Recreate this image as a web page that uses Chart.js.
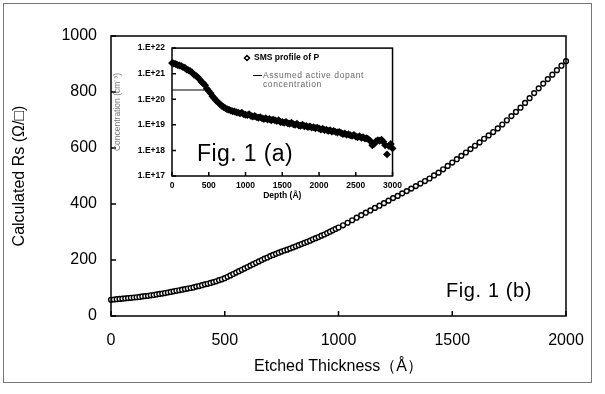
<!DOCTYPE html>
<html>
<head>
<meta charset="utf-8">
<script src="https://cdn.jsdelivr.net/npm/chart.js@4.4.0/dist/chart.umd.min.js"></script>
<style>
  body { margin: 0; background: #fff; }
  #wrap { position: relative; width: 605px; height: 394px; font-family: "Liberation Sans", Arial, sans-serif; }
  #frame { position: absolute; left: 3px; top: 3px; width: 587px; height: 378px; border: 1px solid #777; }
  #main { position: absolute; left: 0; top: 0; }
  #inset { position: absolute; left: 112px; top: 36px; }
  .fig { position: absolute; color: #000; white-space: nowrap; }
</style>
</head>
<body>
<div id="wrap">
  <div id="frame"></div>
  <canvas id="main" width="605" height="394"></canvas>
  <canvas id="inset" width="295" height="168"></canvas>
  <div class="fig" style="left:197px;top:142px;font-size:23px;line-height:23px;letter-spacing:0.4px">Fig. 1 (a)</div>
  <div class="fig" style="left:446px;top:280px;font-size:20px;line-height:20px;letter-spacing:0.6px">Fig. 1 (b)</div>
</div>
<script>
// main plot: calculated sheet resistance vs etched thickness
var thickness = [0,12.5,25,37.5,50,62.5,75,87.5,100,112.5,125,137.5,150,162.5,175,187.5,200,212.5,225,237.5,
  250,262.5,275,287.5,300,312.5,325,337.5,350,362.5,375,387.5,400,412.5,425,437.5,450,462.5,475,487.5,
  500,512.5,525,537.5,550,562.5,575,587.5,600,612.5,625,637.5,650,662.5,675,687.5,700,712.5,725,737.5,
  750,762.5,775,787.5,800,812.5,825,837.5,850,862.5,875,887.5,900,912.5,925,937.5,950,962.5,975,987.5,1000,
  1020,1040,1060,1080,1100,1120,1140,1160,1180,1200,1220,1240,1260,1280,1300,1320,1340,1360,1380,1400,
  1420,1440,1460,1480,1500,1520,1540,1560,1580,1600,1620,1640,1660,1680,1700,1720,1740,1760,1780,1800,
  1820,1840,1860,1880,1900,1920,1940,1960,1980,2000];
var rs = [58,59,60,61,62,63,64,65,66,67,68,70,71,72,74,75,77,79,80,82,
  84,86,88,90,92,94,96,98,100,102,105,107,110,113,115,118,121,124,128,131,
  135,140,145,150,155,160,165,170,175,180,185,190,195,200,205,209,214,218,222,226,
  230,234,237,241,245,249,253,257,261,265,269,274,278,282,287,291,296,301,306,311,316,
  324,333,342,351,360,369,377,386,394,403,412,421,429,438,446,455,464,473,482,491,
  502,512,524,536,548,560,572,584,596,608,620,633,645,657,670,684,699,714,729,744,
  761,778,796,813,830,846,862,878,894,910];

// inset: SIMS profile of P
var depth = [0,25,50,75,100,125,150,175,200,225,250,275,300,325,350,375,400,425,450,475,
  500,525,550,575,600,625,650,675,700,725,750,775,800,825,850,875,900,925,950,975,
  1000,1025,1050,1075,1100,1125,1150,1175,1200,1225,1250,1275,1300,1325,1350,1375,1400,1425,1450,1475,
  1500,1525,1550,1575,1600,1625,1650,1675,1700,1725,1750,1775,1800,1825,1850,1875,1900,1925,1950,1975,
  2000,2025,2050,2075,2100,2125,2150,2175,2200,2225,2250,2275,2300,2325,2350,2375,2400,2425,2450,2475,
  2500,2525,2550,2575,2600,2625,2650,2675,2700,2725,2750,2775,2800,2825,2850,2875,2900,2925,2950,2975,3000];
var simsConc = [2.6e21,2.5e21,2.4e21,2.2e21,2.1e21,2.0e21,1.8e21,1.7e21,1.45e21,1.35e21,
  1.25e21,1.12e21,9.0e20,8.3e20,7.2e20,6.0e20,4.8e20,4.2e20,3.5e20,2.6e20,
  2.1e20,1.7e20,1.3e20,1.1e20,9.0e19,7.6e19,6.6e19,5.6e19,5.0e19,4.5e19,
  4.1e19,3.9e19,3.6e19,3.4e19,3.3e19,3.1e19,3.0e19,2.8e19,3.0e19,2.6e19,
  2.5e19,2.4e19,2.6e19,2.2e19,2.1e19,2.2e19,2.0e19,1.9e19,2.0e19,1.8e19,
  1.7e19,1.8e19,1.6e19,1.7e19,1.5e19,1.6e19,1.5e19,1.4e19,1.5e19,1.3e19,
  1.3e19,1.2e19,1.3e19,1.15e19,1.1e19,1.2e19,1.05e19,1.0e19,1.1e19,9.5e18,
  9.2e18,1.0e19,8.8e18,9.0e18,8.2e18,8.6e18,7.9e18,8.1e18,7.4e18,7.8e18,
  7.2e18,6.6e18,7.0e18,6.2e18,6.4e18,5.8e18,6.1e18,5.5e18,5.8e18,5.3e18,
  5.0e18,5.3e18,4.8e18,4.4e18,4.6e18,4.1e18,4.3e18,3.9e18,3.7e18,4.0e18,
  3.5e18,3.3e18,3.6e18,3.1e18,3.3e18,2.9e18,3.0e18,2.7e18,2.3e18,1.6e18,
  1.8e18,2.3e18,2.5e18,2.4e18,2.6e18,2.2e18,1.6e18,7e17,1.5e18,1.8e18,
  1.2e18];
var activeDepth = [0, 480];
var activeConc = [2.3e20, 2.3e20];
var decades = [17, 18, 19, 20, 21, 22];

var fam = '"Liberation Sans", Arial, sans-serif';
var plain = function(v) { return String(v); };

// box around plot area + tick marks pointing inward
var frameTicks = {
  id: 'frameTicks',
  afterDatasetsDraw: function(chart, args, opts) {
    var ctx = chart.ctx, a = chart.chartArea, sx = chart.scales.x, sy = chart.scales.y;
    ctx.save();
    ctx.strokeStyle = '#000';
    ctx.lineWidth = opts.width;
    ctx.strokeRect(a.left, a.top, a.right - a.left, a.bottom - a.top);
    ctx.beginPath();
    sx.ticks.forEach(function(t) {
      var px = sx.getPixelForValue(t.value);
      ctx.moveTo(px, a.bottom); ctx.lineTo(px, a.bottom - opts.len);
    });
    sy.ticks.forEach(function(t) {
      var py = sy.getPixelForValue(t.value);
      ctx.moveTo(a.left, py); ctx.lineTo(a.left + opts.len, py);
    });
    ctx.stroke();
    ctx.restore();
  }
};

// legend of the inset, drawn by hand so the second label can wrap
var insetLegend = {
  id: 'insetLegend',
  afterDraw: function(chart) {
    var ctx = chart.ctx;
    ctx.save();
    ctx.beginPath();
    ctx.moveTo(135, 19.5); ctx.lineTo(137.5, 22); ctx.lineTo(135, 24.5); ctx.lineTo(132.5, 22); ctx.closePath();
    ctx.fillStyle = '#fff'; ctx.fill();
    ctx.lineWidth = 1.5; ctx.strokeStyle = '#000'; ctx.stroke();
    ctx.fillStyle = '#000';
    ctx.font = 'bold 8.5px ' + fam;
    ctx.textBaseline = 'middle';
    ctx.fillText(chart.data.datasets[0].label, 142, 22);
    ctx.beginPath();
    ctx.moveTo(141, 39.5); ctx.lineTo(150, 39.5);
    ctx.lineWidth = 1; ctx.stroke();
    ctx.fillStyle = '#666';
    ctx.font = '8.5px ' + fam;
    ctx.letterSpacing = '0.6px';
    ctx.fillText('Assumed active dopant', 151, 40);
    ctx.fillText('concentration', 151, 49);
    ctx.restore();
  }
};

new Chart(document.getElementById('main'), {
  type: 'scatter',
  data: {
    datasets: [{
      label: 'Calculated Rs',
      data: thickness.map(function(t, i) { return { x: t, y: rs[i] }; }),
      pointStyle: 'circle',
      pointRadius: 2.4,
      pointBorderWidth: 1.4,
      pointBorderColor: '#000',
      pointBackgroundColor: '#fff',
      showLine: false,
      clip: false
    }]
  },
  options: {
    responsive: false,
    animation: false,
    layout: { padding: { top: 36, right: 39, left: 0, bottom: 0 } },
    plugins: {
      legend: { display: false },
      tooltip: { enabled: false },
      frameTicks: { len: 5, width: 1.5 }
    },
    scales: {
      x: {
        type: 'linear', min: 0, max: 2000,
        ticks: { stepSize: 500, padding: 15, color: '#000', font: { size: 16, family: fam }, callback: plain },
        grid: { display: false, drawTicks: false },
        border: { display: false },
        title: { display: true, text: 'Etched Thickness（Å）', color: '#000', font: { size: 16, family: fam }, padding: { top: 0, bottom: 18 } },
        afterFit: function(s) { s.height = 78; }
      },
      y: {
        type: 'linear', min: 0, max: 1000,
        ticks: { stepSize: 200, padding: 14, color: '#000', font: { size: 16, family: fam }, callback: plain },
        grid: { display: false, drawTicks: false },
        border: { display: false },
        title: { display: true, text: 'Calculated Rs (Ω/□)', color: '#000', font: { size: 16, family: fam }, padding: { top: 10, bottom: 0 } },
        afterFit: function(s) { s.width = 111; }
      }
    }
  },
  plugins: [frameTicks]
});

new Chart(document.getElementById('inset'), {
  type: 'scatter',
  data: {
    datasets: [{
      label: 'SMS profile of P',
      data: depth.map(function(d, i) { return { x: d, y: simsConc[i] }; }),
      pointStyle: 'rectRot',
      pointRadius: 2.7,
      pointBorderWidth: 1.8,
      pointBorderColor: '#000',
      pointBackgroundColor: '#000',
      showLine: false,
      clip: false
    }, {
      label: 'Assumed active dopant concentration',
      data: activeDepth.map(function(d, i) { return { x: d, y: activeConc[i] }; }),
      showLine: true,
      borderColor: '#000',
      borderWidth: 1,
      pointRadius: 0
    }]
  },
  options: {
    responsive: false,
    animation: false,
    layout: { padding: { top: 8, right: 10, left: 0, bottom: 0 } },
    plugins: {
      legend: { display: false },
      tooltip: { enabled: false },
      frameTicks: { len: 4, width: 1.5 }
    },
    scales: {
      x: {
        type: 'linear', min: 0, max: 3000,
        ticks: { stepSize: 500, padding: 5, color: '#000', font: { size: 8.5, weight: 'bold', family: fam }, callback: plain },
        grid: { display: false, drawTicks: false },
        border: { display: false },
        title: { display: true, text: 'Depth (Å)', color: '#000', font: { size: 8.5, weight: 'bold', family: fam }, padding: { top: 0, bottom: 3 } },
        afterFit: function(s) { s.height = 28; }
      },
      y: {
        type: 'logarithmic', min: 1e17, max: 1e22,
        afterBuildTicks: function(s) {
          s.ticks = decades.map(function(e) { return { value: Number('1e' + e) }; });
        },
        ticks: {
          padding: 7, color: '#000', font: { size: 8.5, weight: 'bold', family: fam },
          callback: function(v) { return '1.E+' + Math.round(Math.log10(v)); }
        },
        grid: { display: false, drawTicks: false },
        border: { display: false },
        title: { display: true, text: 'Concentration (cm⁻³)', color: '#777', font: { size: 8.5, family: fam }, padding: { top: 1, bottom: 0 } },
        afterFit: function(s) { s.width = 60; }
      }
    }
  },
  plugins: [frameTicks, insetLegend]
});
</script>
</body>
</html>
